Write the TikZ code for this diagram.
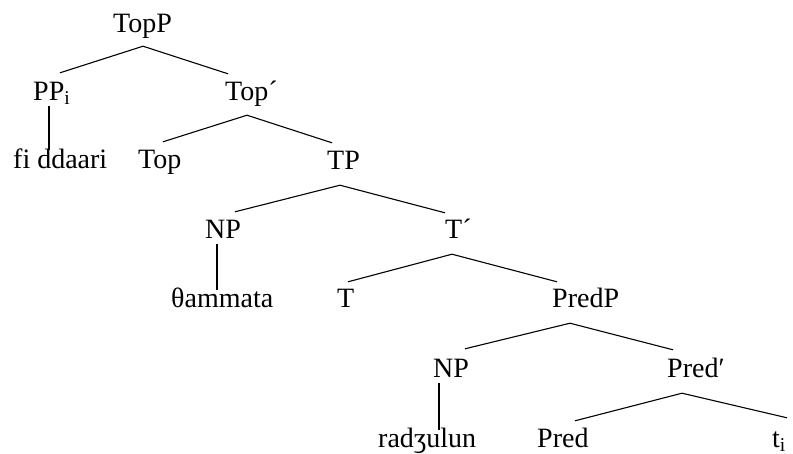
\documentclass[tikz,border=0pt]{standalone}
\usepackage{fontspec}
\setmainfont{Liberation Serif}
\usepackage{tikz}
\usetikzlibrary{calc}

\begin{document}
\begin{tikzpicture}[x=1pt,y=-1pt,
    cat/.style={inner sep=0pt, text height=19pt, text depth=6pt, anchor=base west,
      font=\fontsize{28}{34}\selectfont},
    branch/.style={line width=1.1pt}]
  \useasboundingbox (0,0) rectangle (793,453);
  % categories and words
  \node[cat] (topp) at (113,32) {TopP};
  \node[cat] (pp) at (33,100) {PP\textsubscript{i}};
  \node[cat] (topbar) at (225,100) {Top´};
  \node[cat] (fiddaari) at (13,168) {fi ddaari};
  \node[cat] (top) at (138,168) {Top};
  \node[cat] (tp) at (327,169) {TP};
  \node[cat] (np) at (205,238) {NP};
  \node[cat] (tbar) at (445,238) {T´};
  \node[cat] (thammata) at (171,307) {θammata};
  \node[cat] (t) at (337,307) {T};
  \node[cat] (predp) at (552,307) {PredP};
  \node[cat] (npb) at (433,377) {NP};
  \node[cat] (predbar) at (667,377) {Pred′};
  \node[cat] (radzulun) at (378,447) {radʒulun};
  \node[cat] (pred) at (537,447) {Pred};
  \node[cat] (trace) at (772,447) {t\textsubscript{i}};
  % branches
  \draw[branch] ($(pp.north west)+(27,-8)$) -- ($(topp.south west)+(30,8)$) -- ($(topbar.north west)+(3,-7)$);
  \draw[branch] ($(pp.south west)+(16,0)$) -- ($(fiddaari.north west)+(36,1)$);
  \draw[branch] ($(top.north west)+(25,-7)$) -- ($(topbar.south west)+(22,9)$) -- ($(tp.north west)+(5,-7)$);
  \draw[branch] ($(np.north west)+(30,-7)$) -- ($(tp.south west)+(13,10)$) -- ($(tbar.north west)+(0,-6)$);
  \draw[branch] ($(np.south west)+(12,0)$) -- ($(thammata.north west)+(46,2)$);
  \draw[branch] ($(t.north west)+(11,-6)$) -- ($(tbar.south west)+(7,10)$) -- ($(predp.north west)+(5,-6)$);
  \draw[branch] ($(npb.north west)+(32,-9)$) -- ($(predp.south west)+(18,10)$) -- ($(predbar.north west)+(6,-8)$);
  \draw[branch] ($(npb.south west)+(6,0)$) -- ($(radzulun.north west)+(61,2)$);
  \draw[branch] ($(pred.north west)+(38,-7)$) -- ($(predbar.south west)+(15,10)$) -- ($(trace.north west)+(15,-10)$);
\end{tikzpicture}
\end{document}
